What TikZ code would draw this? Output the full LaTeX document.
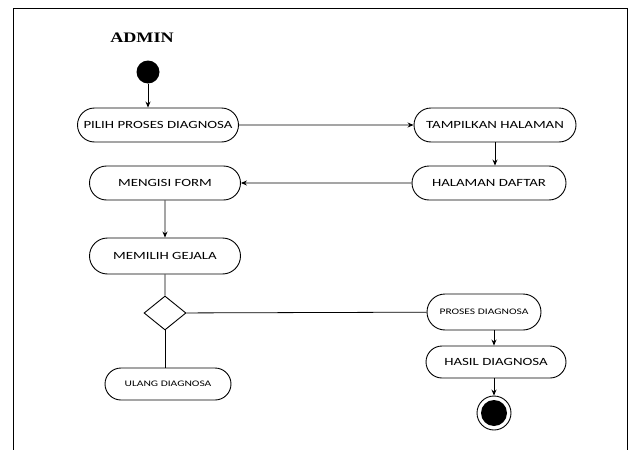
\documentclass[tikz,border=0pt]{standalone}
\usepackage{fontspec}
\setmainfont{Carlito}[FakeStretch=1.35]
\newfontfamily\titlefont{Liberation Serif}[FakeStretch=1.25]
\usetikzlibrary{arrows.meta,positioning,shapes.misc,shapes.geometric}

\begin{document}
\begin{tikzpicture}[
  x=1pt, y=-1pt,
  >={Stealth[length=6pt,width=5pt]},
  act/.style={draw, line width=0.9pt, rounded rectangle, align=center, inner sep=2pt,
    minimum height=34pt, font=\fontsize{11}{13}\selectfont},
  smallact/.style={act, font=\fontsize{8.5}{10}\selectfont},
  flow/.style={line width=0.8pt}
]
  \useasboundingbox (0,0) rectangle (633,450);
  \draw[line width=0.8pt] (13,450) -- (13,8) -- (627,8) -- (627,450);

  \node[font=\titlefont\bfseries\fontsize{14.5}{16}\selectfont] (title) at (142,38) {ADMIN};

  % start
  \node[circle, fill=black, minimum size=23pt, inner sep=0pt] (start) at (148,72) {};

  % left column
  \node[act, minimum width=165pt] (pilih) at (158,125) {PILIH PROSES DIAGNOSA};
  \node[act, minimum width=155pt] (form) at (165,183) {MENGISI FORM};
  \node[act, minimum width=155pt, minimum height=36pt] (gejala) at (165,256) {MEMILIH GEJALA};
  \node[draw, line width=0.9pt, diamond, minimum width=42pt, minimum height=34pt, inner sep=0pt] (cek) at (165,313) {};
  \node[smallact, minimum width=130pt, minimum height=32pt] (ulang) at (168,384) {ULANG DIAGNOSA};

  % right column
  \node[act, minimum width=166pt] (tampil) at (495,125) {TAMPILKAN HALAMAN};
  \node[act, minimum width=158pt] (daftar) at (489,183) {HALAMAN DAFTAR};
  \node[smallact, minimum width=118pt, minimum height=36pt] (proses) at (484,312) {PROSES DIAGNOSA};
  \node[act, minimum width=144pt, minimum height=32pt] (hasil) at (496,362) {HASIL DIAGNOSA};

  % end
  \node[circle, draw, line width=0.9pt, minimum size=34pt, inner sep=0pt] (stop) at (494,413) {};
  \node[circle, fill=black, minimum size=26pt, inner sep=0pt] at (stop) {};

  % flows
  \draw[flow,->] (start) -- (pilih.north -| start);
  \draw[flow,->] (pilih) -- (tampil);
  \draw[flow,->] (tampil.south) -- (daftar.north -| tampil.south);
  \draw[flow,->] (daftar) -- (form);
  \draw[flow,->] (form) -- (gejala);
  \draw[flow] (gejala) -- (cek);
  \draw[flow] (cek) -- (proses);
  \draw[flow] (cek) -- (cek |- ulang.north);
  \draw[flow,->] (proses.south -| stop) -- (hasil.north -| stop);
  \draw[flow,->] (hasil.south -| stop) -- (stop);
\end{tikzpicture}
\end{document}
